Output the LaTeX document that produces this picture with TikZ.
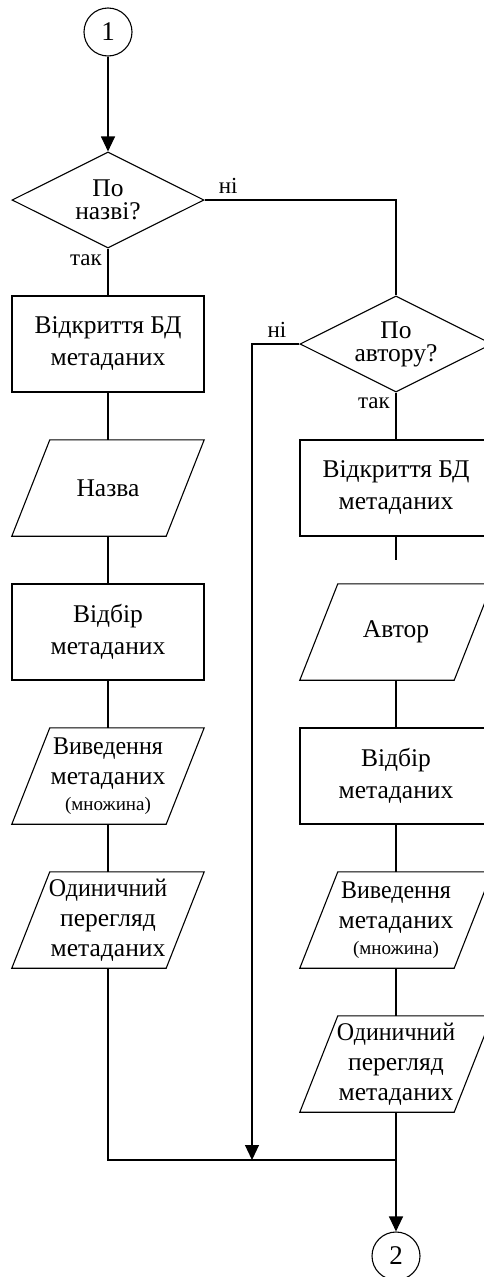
\documentclass[tikz,border=0pt]{standalone}
\usepackage{fontspec}
\setmainfont{Liberation Serif}
\usetikzlibrary{shapes.geometric,arrows.meta}

\tikzset{
  flow/.style={line width=1.1pt},
  arr/.style={flow, -{Triangle[length=15pt,width=14pt]}},
  procbox/.style={draw, line width=1.1pt, rectangle, minimum width=192pt,
    minimum height=96pt, inner sep=0pt, align=center,
    font=\fontsize{25.5}{32}\selectfont},
  iobox/.style={rectangle, minimum width=154pt, minimum height=96pt,
    inner sep=0pt, align=center, font=\fontsize{25.5}{30}\selectfont},
  decide/.style={draw, line width=1.1pt, diamond, aspect=2,
    minimum width=192pt, minimum height=96pt, inner sep=0pt, align=center,
    font=\fontsize{25.5}{23}\selectfont},
  conn/.style={draw, line width=1.1pt, circle, minimum size=48pt,
    inner sep=0pt, font=\fontsize{27}{30}\selectfont},
  lbl/.style={font=\fontsize{23}{26}\selectfont, inner sep=0pt},
}

% slanted outline of an input/output block around a text node
\newcommand\slantframe[1]{%
  \draw[flow] ([xshift=-19pt]#1.south west) -- ([xshift=19pt]#1.north west)
    -- ([xshift=19pt]#1.north east) -- ([xshift=-19pt]#1.south east) -- cycle;}

\newcommand\notefont{\fontsize{19}{22}\selectfont}
\newcommand\narrow[1]{\scalebox{0.94}[1]{#1}}

\begin{document}
\begin{tikzpicture}[x=1pt, y=-1pt]
  \path[use as bounding box] (0,0) rectangle (484,1277);
  \clip (0,0) rectangle (484,1277);

  % left branch: search by title
  \node[conn]    (c1) at (108,32)  {1};
  \node[decide]  (d1) at (108,200) {По\\назві?};
  \node[procbox] (b1) at (108,344) {Відкриття БД\\метаданих};
  \node[iobox]   (p1) at (108,488) {Назва};
  \node[procbox] (b2) at (108,632) {Відбір\\метаданих};
  \node[iobox]   (p2) at (108,776) {\narrow{Виведення}\\метаданих\\[-4pt]{\notefont(множина)}};
  \node[iobox]   (p3) at (108,920) {\narrow{Одиничний}\\перегляд\\метаданих};

  % right branch: search by author
  \node[decide]  (d2) at (396,344)  {По\\автору?};
  \node[procbox] (b3) at (396,488)  {Відкриття БД\\метаданих};
  \node[iobox]   (p4) at (396,632)  {Автор};
  \node[procbox] (b4) at (396,776)  {Відбір\\метаданих};
  \node[iobox]   (p5) at (396,920)  {\narrow{Виведення}\\метаданих\\[-4pt]{\notefont(множина)}};
  \node[iobox]   (p6) at (396,1064) {\narrow{Одиничний}\\перегляд\\метаданих};
  \node[conn]    (c2) at (396,1256) {2};

  \slantframe{p1}
  \slantframe{p2}
  \slantframe{p3}
  \slantframe{p4}
  \slantframe{p5}
  \slantframe{p6}

  \coordinate (stub) at (396,560);
  \coordinate (jn) at (252,1160);
  \coordinate (jl) at (108,1160);
  \coordinate (jr) at (396,1160);

  % connectors
  \draw[arr]  (c1) -- (d1);
  \draw[flow] (d1) -- (b1);
  \draw[flow] (b1) -- (p1);
  \draw[flow] (p1) -- (b2);
  \draw[flow] (b2) -- (p2);
  \draw[flow] (p2) -- (p3);
  \draw[flow] (p3.south) -- (jl) -- (jr);

  \draw[flow] (d1.east) -| (d2.north);
  \draw[arr]  (d2.west) -| (jn);
  \draw[flow] (d2) -- (b3);
  \draw[flow] (b3) -- (stub);
  \draw[flow] (p4) -- (b4);
  \draw[flow] (b4) -- (p5);
  \draw[flow] (p5) -- (p6);
  \draw[arr]  (p6.south) -- (c2);

  % branch labels
  \node[lbl, anchor=base west] (n1) at ([xshift=14pt,yshift=7pt]d1.east) {ні};
  \node[lbl, anchor=base east] (t1) at ([xshift=-6pt,yshift=-17pt]d1.south) {так};
  \node[lbl, anchor=base east] (n2) at ([xshift=-13pt,yshift=7pt]d2.west) {ні};
  \node[lbl, anchor=base east] (t2) at ([xshift=-6pt,yshift=-16pt]d2.south) {так};
\end{tikzpicture}
\end{document}
